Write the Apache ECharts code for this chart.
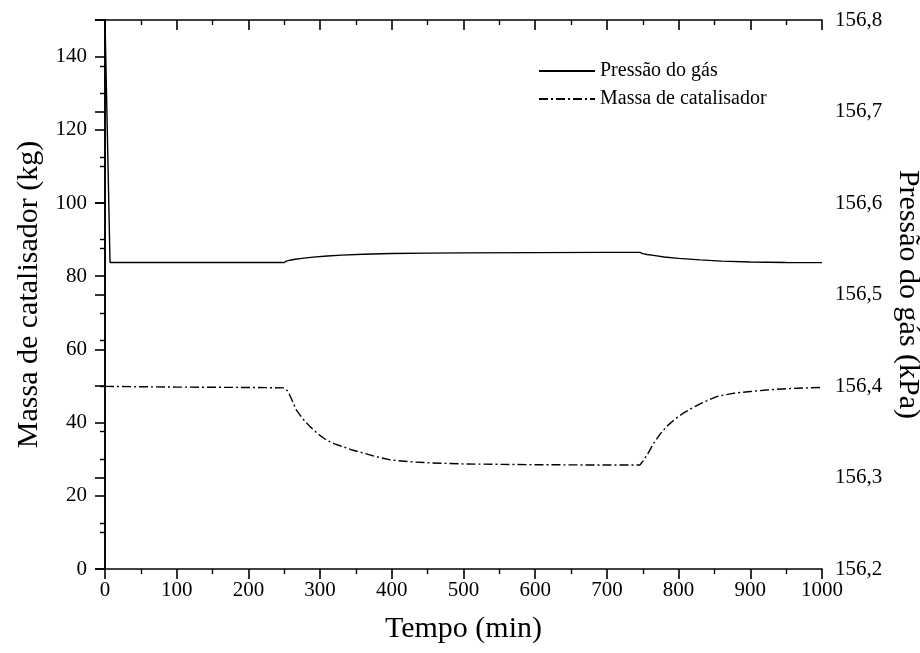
<!DOCTYPE html>
<html>
<head>
<meta charset="utf-8">
<script src="https://cdn.jsdelivr.net/npm/echarts@6/dist/echarts.min.js"></script>
<style>html,body{margin:0;padding:0;background:#fff}#c{width:920px;height:653px}</style>
</head>
<body>
<div id="c"></div>
<script>
// Pressure (kPa) vs time (min) — right axis
const pressTime = [0, 7, 250, 253, 258, 265, 275, 290, 310, 330, 360, 400, 450, 500, 600, 700, 746, 750, 756, 765, 780, 800, 830, 860, 900, 950, 1000];
const pressVal  = [156.8, 156.535, 156.535, 156.5365, 156.5375, 156.5385, 156.5395, 156.5408, 156.5420, 156.5430, 156.5440, 156.5448, 156.5452, 156.5455, 156.5458, 156.5460, 156.5460, 156.5447, 156.5437, 156.5427, 156.5410, 156.5395, 156.5378, 156.5365, 156.5355, 156.5350, 156.5348];
// Catalyst mass (kg) vs time (min) — left axis
const massTime = [0, 100, 200, 250, 255, 260, 267, 276, 286, 297, 309, 320, 332, 345, 360, 378, 398, 425, 453, 500, 600, 700, 746, 752, 758, 765, 774, 783, 794, 806, 818, 830, 842, 853, 865, 876, 900, 922, 945, 965, 1000];
const massVal  = [49.9, 49.7, 49.6, 49.5, 48.6, 46.5, 43.4, 41.0, 38.9, 36.9, 35.2, 34.2, 33.4, 32.5, 31.7, 30.7, 29.8, 29.3, 29.0, 28.7, 28.5, 28.4, 28.4, 29.9, 31.8, 34.3, 36.8, 38.9, 40.8, 42.5, 43.9, 45.1, 46.2, 47.1, 47.6, 48.0, 48.5, 48.9, 49.2, 49.4, 49.6];
const xTicks = {min: 0, max: 1000, interval: 100};
const leftTicks = {min: 0, max: 150, interval: 20};
const rightTicks = {min: 156.2, max: 156.8, interval: 0.1};

const font = 'Liberation Serif';
const axisLine = {lineStyle: {color: '#000', width: 1.6}};
const chart = echarts.init(document.getElementById('c'));
const pair = (ts, vs) => ts.map((t, i) => [t, vs[i]]);
chart.setOption({
  animation: false,
  backgroundColor: '#fff',
  grid: {left: 105, right: 98, top: 20, bottom: 84, containLabel: false, outerBoundsMode: 'none'},
  legend: {
    orient: 'vertical', left: 533, top: 56, itemWidth: 56, itemHeight: 10, itemGap: 8,
    itemStyle: {opacity: 0},
    textStyle: {fontFamily: font, fontSize: 20, color: '#000'},
    data: ['Pressão do gás', 'Massa de catalisador']
  },
  xAxis: [{
    type: 'value', position: 'bottom', min: xTicks.min, max: xTicks.max, interval: xTicks.interval,
    name: 'Tempo (min)', nameLocation: 'middle', nameGap: 45,
    nameTextStyle: {fontFamily: font, fontSize: 30, color: '#000'},
    axisLine: axisLine,
    axisTick: {inside: false, length: 10, lineStyle: {color: '#000', width: 1.6}},
    minorTick: {show: true, splitNumber: 2, length: 5, lineStyle: {color: '#000', width: 1.4}},
    axisLabel: {fontFamily: font, fontSize: 21, color: '#000', margin: 11, formatter: v => String(v)},
    splitLine: {show: false}
  }, {
    type: 'value', position: 'top', min: xTicks.min, max: xTicks.max, interval: xTicks.interval,
    axisLine: axisLine,
    axisTick: {inside: true, length: 10, lineStyle: {color: '#000', width: 1.6}},
    minorTick: {show: true, splitNumber: 2, length: 5, lineStyle: {color: '#000', width: 1.4}},
    axisLabel: {show: false},
    splitLine: {show: false}
  }],
  yAxis: [{
    type: 'value', position: 'left', min: leftTicks.min, max: leftTicks.max, interval: leftTicks.interval,
    name: 'Massa de catalisador (kg)', nameLocation: 'middle', nameGap: 60,
    nameTextStyle: {fontFamily: font, fontSize: 30, color: '#000'},
    axisLine: axisLine,
    axisTick: {inside: false, length: 10, lineStyle: {color: '#000', width: 1.6}},
    minorTick: {show: true, splitNumber: 2, length: 5, lineStyle: {color: '#000', width: 1.4}},
    axisLabel: {fontFamily: font, fontSize: 21, color: '#000', margin: 18, showMaxLabel: false},
    splitLine: {show: false}
  }, {
    type: 'value', position: 'right', min: rightTicks.min, max: rightTicks.max, interval: rightTicks.interval,
    name: 'Pressão do gás (kPa)', nameLocation: 'middle', nameGap: 70, nameRotate: -90,
    nameTextStyle: {fontFamily: font, fontSize: 30, color: '#000'},
    axisLine: axisLine,
    axisTick: {inside: true, length: 10, lineStyle: {color: '#000', width: 1.6}},
    minorTick: {show: true, splitNumber: 2, length: 5, lineStyle: {color: '#000', width: 1.4}},
    axisLabel: {fontFamily: font, fontSize: 21, color: '#000', margin: 13,
      formatter: v => v.toFixed(1).replace('.', ',')},
    splitLine: {show: false}
  }],
  series: [{
    name: 'Pressão do gás', type: 'line', xAxisIndex: 0, yAxisIndex: 1,
    symbol: 'none', smooth: false, clip: true,
    lineStyle: {color: '#000', width: 1.4, type: 'solid'},
    itemStyle: {color: '#000'},
    data: pair(pressTime, pressVal)
  }, {
    name: 'Massa de catalisador', type: 'line', xAxisIndex: 0, yAxisIndex: 0,
    symbol: 'none', smooth: false,
    lineStyle: {color: '#000', width: 1.4, type: [9, 3, 2, 3]},
    itemStyle: {color: '#000'},
    data: pair(massTime, massVal)
  }]
});
</script>
</body>
</html>
